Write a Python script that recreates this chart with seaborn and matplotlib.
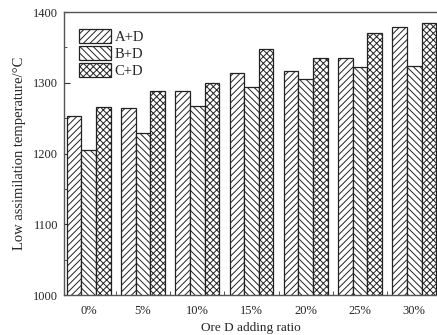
import pandas as pd
import matplotlib.pyplot as plt
import seaborn as sns
from matplotlib.ticker import MultipleLocator, FixedLocator

# values
ratios = ['0%', '5%', '10%', '15%', '20%', '25%', '30%']
a_d = [1253, 1264, 1288, 1314, 1317, 1335, 1379]
b_d = [1205, 1229, 1267, 1294, 1305, 1323, 1324]
c_d = [1266, 1288, 1300, 1348, 1335, 1370, 1385]
series = ['A+D', 'B+D', 'C+D']
hatches = ['/////', '\\\\\\\\\\', 'xxxxx']

df = pd.DataFrame({
    'ratio': ratios * 3,
    'temp': a_d + b_d + c_d,
    'mix': [s for s in series for _ in ratios],
})

sns.set_style('ticks')
plt.rcParams['font.family'] = ['Liberation Serif', 'DejaVu Serif']
plt.rcParams['hatch.linewidth'] = 0.7
plt.rcParams['hatch.color'] = '#222222'

fig = plt.figure(figsize=(4.37, 3.35), dpi=100)
ax = fig.add_axes([0.146, 0.119, 0.854, 0.845])

sns.barplot(data=df, x='ratio', y='temp', hue='mix', order=ratios,
            hue_order=series, color='white', edgecolor='#222222',
            linewidth=0.9, width=0.81, ax=ax)

for cont, h in zip(ax.containers, hatches):
    for p in cont:
        p.set_facecolor('white')
        p.set_hatch(h)

ax.set_ylim(1000, 1400)
ax.set_xlim(-0.46, 6.42)
ax.yaxis.set_major_locator(MultipleLocator(100))
ax.yaxis.set_minor_locator(MultipleLocator(50))
ax.xaxis.set_minor_locator(FixedLocator([0.5, 1.5, 2.5, 3.5, 4.5, 5.5]))
ax.tick_params(axis='both', which='both', direction='in', labelsize=9,
               color='#333333')
ax.tick_params(axis='x', which='major', length=0, pad=7)
ax.tick_params(axis='x', which='minor', length=3)
ax.tick_params(axis='y', which='major', length=4, pad=4)
ax.tick_params(axis='y', which='minor', length=2)

for side in ['left', 'bottom', 'top']:
    ax.spines[side].set_color('#555555')
    ax.spines[side].set_linewidth(1.0)
ax.spines['right'].set_visible(False)

ax.set_xlabel('Ore D adding ratio', fontsize=9.5, labelpad=4)
ax.set_ylabel('Low assimilation temperature/°C', fontsize=10.5, labelpad=5)

leg = ax.legend(loc='upper left', bbox_to_anchor=(0.013, 0.975), frameon=False,
                fontsize=10.5, handlelength=2.2, handleheight=1.1,
                handletextpad=0.25, labelspacing=0.12, borderaxespad=0.3)
for hdl, h in zip(leg.legend_handles, hatches):
    hdl.set_hatch(h)
    hdl.set_facecolor('white')
    hdl.set_edgecolor('#222222')

fig.savefig('out.png', dpi=100)
